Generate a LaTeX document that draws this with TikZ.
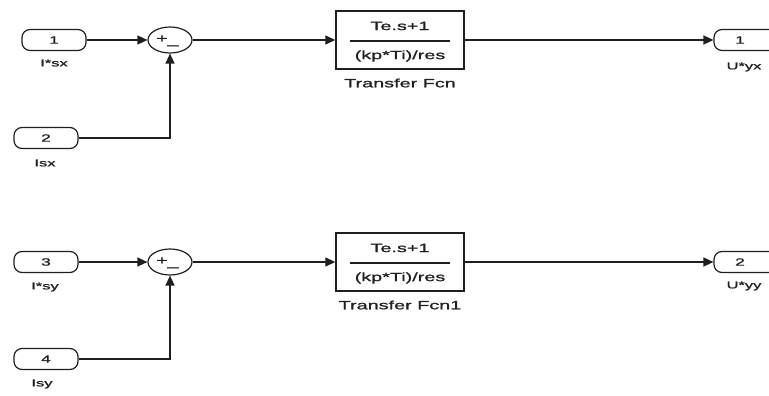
\documentclass[tikz,border=0pt]{standalone}
\usepackage{fontspec}
\setmainfont{Liberation Sans}
\newfontfamily\widesans[FakeStretch=1.65,FakeBold=1.2]{Liberation Sans}
\usetikzlibrary{arrows.meta,shapes.geometric}
\definecolor{ink}{gray}{0.12}
\tikzset{
  x=1pt, y=-1pt,
  wire/.style={draw=ink, line width=1.3pt},
  sig/.style={wire, -{Triangle[length=10pt,width=9pt]}},
  port/.style={draw=ink, line width=1.2pt, rounded corners=8pt, minimum width=64pt,
    minimum height=21pt, inner sep=0pt, font=\widesans\fontsize{10.5}{11}\selectfont, text=ink},
  plabel/.style={font=\widesans\fontsize{10}{11}\selectfont, text=ink},
  sumblk/.style={draw=ink, line width=1.2pt, ellipse, minimum width=44pt,
    minimum height=26pt, inner sep=0pt},
  sgn/.style={font=\widesans\fontsize{12}{12}\selectfont, text=ink, inner sep=0pt},
  tfblk/.style={draw=ink, line width=1.4pt, minimum width=128pt, minimum height=58pt,
    inner sep=0pt},
  frac/.style={font=\widesans\fontsize{12}{13}\selectfont, text=ink},
  tflabel/.style={font=\widesans\fontsize{12}{13}\selectfont, text=ink},
  fracbar/.style={draw=ink, line width=1.1pt},
}
\begin{document}
\begin{tikzpicture}
\useasboundingbox (0,0) rectangle (769,396);
\clip (0,0) rectangle (769,396);

% ---- upper loop (x axis) ----
\node[port] (in1) at (54,40) {1};
\node[plabel] (in1l) at (54,63) {I*sx};
\node[port] (in2) at (46,138) {2};
\node[plabel] (in2l) at (45,163) {Isx};
\node[sumblk] (sum1) at (170,40) {};
\node[sgn] at (162,39) {+};
\node[sgn] at (173,45) {\_};
\node[tfblk] (tf1) at (400,40) {};
\node[frac] at (400,26) {Te.s+1};
\draw[fracbar] (350,41) -- (450,41);
\node[frac] at (400,56) {(kp*Ti)/res};
\node[tflabel] (tf1l) at (400,83) {Transfer Fcn};
\node[port] (out1) at (746,40) {\hspace*{-12pt}1};
\node[plabel] (out1l) at (744,67) {U*yx};

\draw[sig] (in1.east) -- (sum1.west);
\draw[sig] (in2.east) -| (sum1.south);
\draw[sig] (sum1.east) -- (tf1.west);
\draw[sig] (tf1.east) -- (out1.west);

% ---- lower loop (y axis) ----
\node[port] (in3) at (46,262) {3};
\node[plabel] (in3l) at (45,287) {I*sy};
\node[port] (in4) at (46,359) {4};
\node[plabel] (in4l) at (42,384) {Isy};
\node[sumblk] (sum2) at (170,262) {};
\node[sgn] at (162,261) {+};
\node[sgn] at (173,267) {\_};
\node[tfblk] (tf2) at (400,262) {};
\node[frac] at (400,248) {Te.s+1};
\draw[fracbar] (350,263) -- (450,263);
\node[frac] at (400,278) {(kp*Ti)/res};
\node[tflabel] (tf2l) at (400,305) {Transfer Fcn1};
\node[port] (out2) at (746,262) {\hspace*{-12pt}2};
\node[plabel] (out2l) at (744,286) {U*yy};

\draw[sig] (in3.east) -- (sum2.west);
\draw[sig] (in4.east) -| (sum2.south);
\draw[sig] (sum2.east) -- (tf2.west);
\draw[sig] (tf2.east) -- (out2.west);
\end{tikzpicture}
\end{document}
